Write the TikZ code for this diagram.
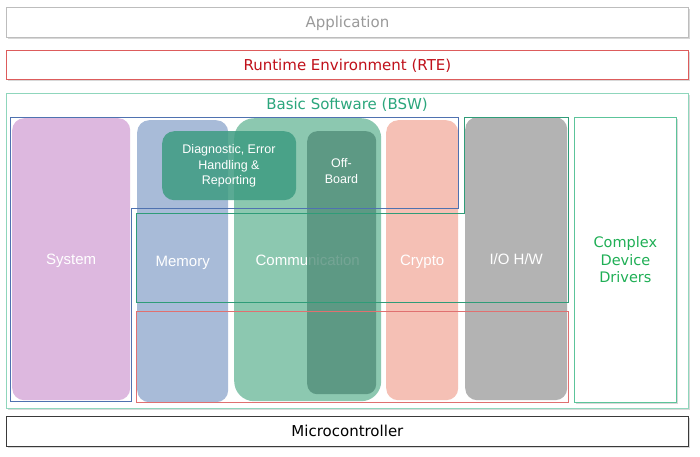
\documentclass[tikz,border=0pt]{standalone}
\usepackage{fontspec}
\setmainfont{DejaVu Sans}
\newfontfamily\arialf{Liberation Sans}
\usetikzlibrary{shadows}
\definecolor{appborder}{HTML}{BDBDBD}
\definecolor{apptext}{HTML}{9A9A9A}
\definecolor{rteborder}{HTML}{DD5C5C}
\definecolor{rtetext}{HTML}{C0101A}
\definecolor{bswborder}{HTML}{8FD6BC}
\definecolor{bswtext}{HTML}{2BA67C}
\definecolor{microborder}{HTML}{3A3A3A}
\definecolor{sysfill}{HTML}{DDB8DF}
\definecolor{memfill}{HTML}{A8BBD8}
\definecolor{comfill}{HTML}{8CC8B0}
\definecolor{diagfill}{HTML}{3E9C82}
\definecolor{offfill}{HTML}{528E7A}
\definecolor{cryfill}{HTML}{F5C0B5}
\definecolor{iofill}{HTML}{B3B3B3}
\definecolor{cddborder}{HTML}{5CC49A}
\definecolor{cddtext}{HTML}{1FAF55}
\definecolor{blueline}{HTML}{4F72B0}
\definecolor{greenline}{HTML}{2F9C78}
\definecolor{redline}{HTML}{E07070}
\tikzset{
  layer/.style={draw, fill=white, line width=0.8pt, minimum width=682pt, anchor=north west, inner sep=0pt,
    font=\fontsize{15}{17}\selectfont, text height=11pt, text depth=0pt,
    drop shadow={shadow xshift=1.5pt, shadow yshift=-1.5pt, opacity=0.3}},
  colbox/.style={rounded corners=12pt, anchor=north west, inner sep=0pt, text=white,
    font=\arialf\fontsize{15}{18}\selectfont, text height=11pt, text depth=0pt},
  smalltext/.style={text=white, align=center, inner sep=0pt,
    font=\arialf\fontsize{12.5}{15.5}\selectfont},
  outline/.style={line width=0.8pt}
}
\begin{document}
\begin{tikzpicture}[x=1pt,y=-1pt]
\useasboundingbox[fill=white] (0,0) rectangle (700,456);
% layers
\node[layer, draw=appborder, text=apptext, minimum height=30pt] (app) at (6,7) {Application};
\node[layer, draw=rteborder, text=rtetext, minimum height=29pt] (rte) at (6,50) {Runtime Environment (RTE)};
\node[layer, draw=bswborder, minimum height=315pt] (bsw) at (6,93) {};
\node[text=bswtext, font=\fontsize{15}{17}\selectfont, inner sep=0pt, text height=11pt, text depth=0pt] (bswtitle) at (347,104) {Basic Software (BSW)};
\node[layer, draw=microborder, text=black, minimum height=30pt] (micro) at (6,416) {Microcontroller};
% columns
\node[colbox, fill=sysfill, minimum width=118pt, minimum height=282pt] (sys) at (12,118) {System};
\node[colbox, fill=memfill, minimum width=91pt, minimum height=282pt] (mem) at (137,120) {Memory};
\node[colbox, fill=comfill, rounded corners=20pt, minimum width=147pt, minimum height=283pt] (com) at (234,118) {Communication};
\node[colbox, fill=cryfill, minimum width=72pt, minimum height=280pt] (cry) at (386,120) {Crypto};
\node[colbox, fill=iofill, minimum width=102pt, minimum height=283pt] (io) at (465,117) {I/O H/W};
% overlays
\node[colbox, fill=diagfill, fill opacity=0.85, text opacity=1, minimum width=134pt, minimum height=69pt] (diag) at (162,131) {};
\node[smalltext] (diaglabel) at (229,166) {Diagnostic, Error\\Handling \&\\Reporting};
\node[colbox, fill=offfill, fill opacity=0.8, rounded corners=10pt, minimum width=69pt, minimum height=263pt] (off) at (307,131) {};
\node[smalltext] (offlabel) at (341.5,171) {Off-\\Board};
% outlines
\draw[outline, draw=blueline] (10,117) -- (458,117) -- (458,208) -- (131,208) -- (131,401) -- (10,401) -- cycle;
\draw[outline, draw=greenline] (464,117) -- (568,117) -- (568,302) -- (136,302) -- (136,213) -- (464,213) -- cycle;
\draw[outline, draw=redline] (136,311) rectangle (568,402);
% complex device drivers
\node[draw=cddborder, fill=white, line width=0.8pt, anchor=north west, inner sep=0pt,
  minimum width=102pt, minimum height=285pt, text=cddtext, align=center,
  font=\fontsize{14.5}{17.5}\selectfont,
  drop shadow={shadow xshift=1.5pt, shadow yshift=-1.5pt, opacity=0.3}] (cdd) at (574,117) {Complex\\Device\\Drivers};
\end{tikzpicture}
\end{document}
